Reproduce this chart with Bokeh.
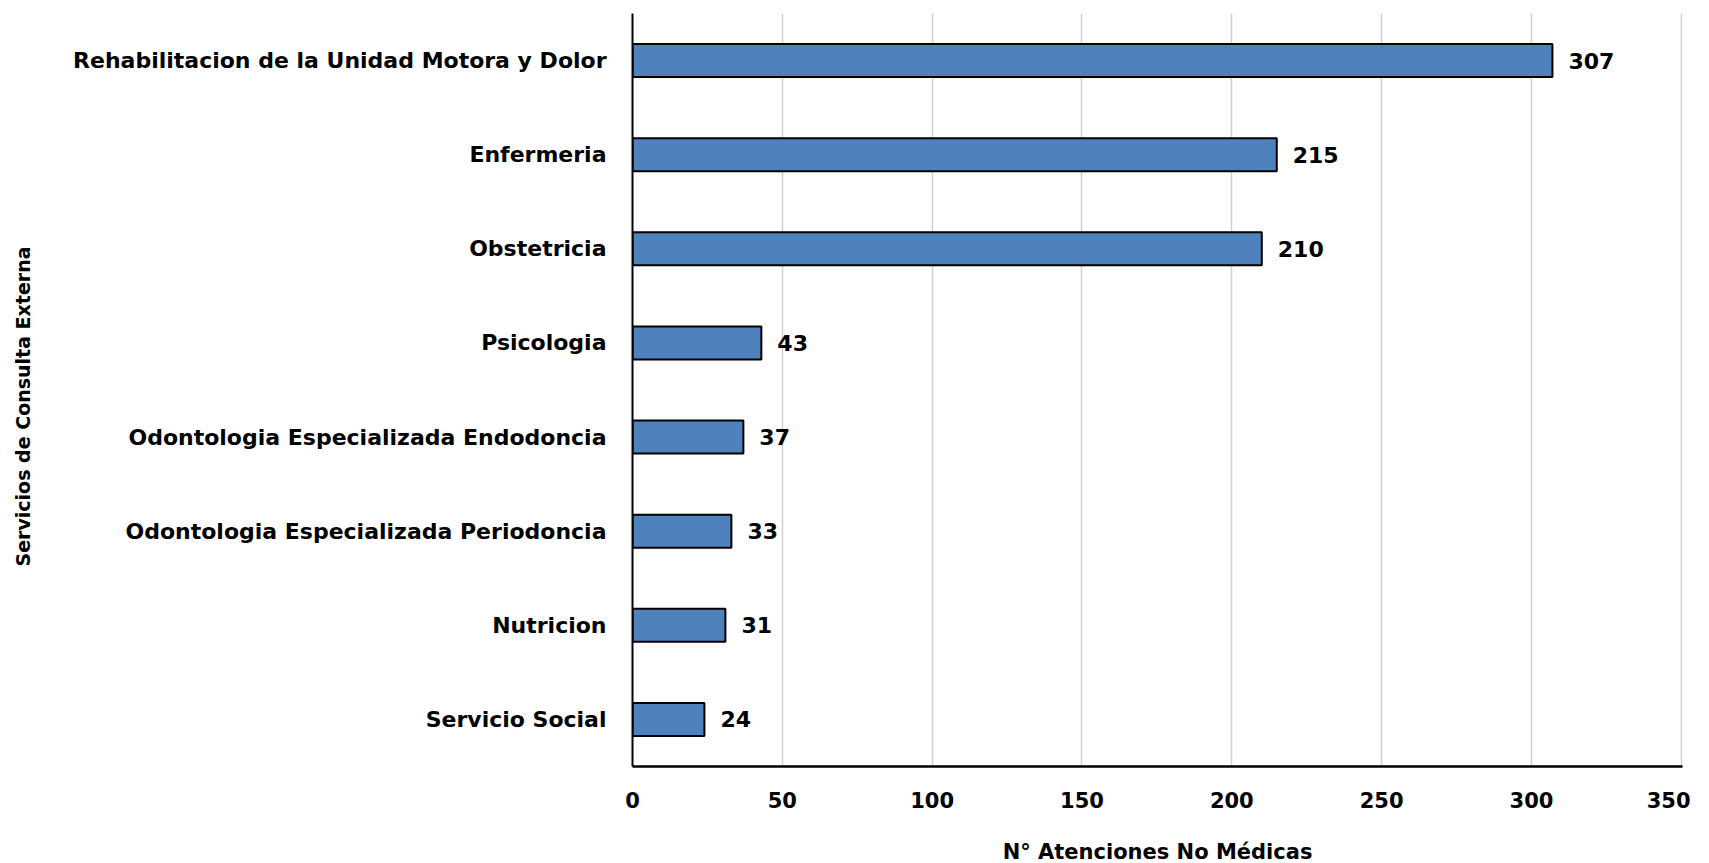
from bokeh.plotting import figure
from bokeh.models import ColumnDataSource, FactorRange, Range1d, FixedTicker, LabelSet, Title
from bokeh.core.properties import value
from bokeh.embed import file_html
from bokeh.resources import INLINE

categories = [
    "Rehabilitacion de la Unidad Motora y Dolor",
    "Enfermeria",
    "Obstetricia",
    "Psicologia",
    "Odontologia Especializada Endodoncia",
    "Odontologia Especializada Periodoncia",
    "Nutricion",
    "Servicio Social",
]
values = [307, 215, 210, 43, 37, 33, 31, 24]
x_ticks = [0, 50, 100, 150, 200, 250, 300, 350]
x_title = "N° Atenciones No Médicas"
y_title = "Servicios de Consulta Externa"

FONT = "DejaVu Sans"

cats_bottom_up = list(reversed(categories))
source = ColumnDataSource(dict(cat=categories, val=values, lab=[str(v) for v in values]))

p = figure(
    y_range=FactorRange(*cats_bottom_up, range_padding=0),
    x_range=Range1d(x_ticks[0], x_ticks[-1] + 0.4),
    frame_width=1050, frame_height=753,
    min_border_top=13, min_border_right=8, min_border_left=632, min_border_bottom=0,
    output_backend="svg", toolbar_location=None,
)

p.hbar(y="cat", right="val", left=0, height=0.35, source=source,
       fill_color="#4F81BD", line_color="black", line_width=2)

labels = LabelSet(x="val", y="cat", text="lab", source=source, x_offset=16,
                  text_align="left", text_baseline="middle",
                  text_font=value(FONT), text_font_style="bold", text_font_size="22px",
                  text_color="black")
p.add_layout(labels)

p.outline_line_color = None
p.ygrid.grid_line_color = None
p.xgrid.grid_line_color = "#D0D0D0"
p.xgrid.grid_line_width = 1.5
p.xaxis.ticker = FixedTicker(ticks=x_ticks)

for ax in (p.xaxis[0], p.yaxis[0]):
    ax.major_tick_line_color = None
    ax.minor_tick_line_color = None
    ax.major_tick_out = 0
    ax.major_tick_in = 0
    ax.axis_line_color = "black"
    ax.major_label_text_font = FONT
    ax.major_label_text_font_style = "bold"
    ax.major_label_text_color = "black"
    ax.axis_label_text_font = FONT
    ax.axis_label_text_font_style = "bold"
    ax.axis_label_text_color = "black"

p.xaxis.axis_line_width = 2.5
p.yaxis.axis_line_width = 2
p.xaxis.major_label_text_font_size = "21px"
p.yaxis.major_label_text_font_size = "22px"
p.xaxis.major_label_standoff = 25
p.yaxis.major_label_standoff = 26
p.xaxis.axis_label = x_title
p.xaxis.axis_label_text_font_size = "21px"
p.xaxis.axis_label_standoff = 29

# invisible spacer label on the y axis, the visible title sits just outside it
p.yaxis.axis_label = " "
p.yaxis.axis_label_text_font_size = "10px"
p.yaxis.axis_label_text_alpha = 0
p.yaxis.axis_label_standoff = 21

ytitle = Title(text=y_title, align="left", offset=200, standoff=4,
               text_font=FONT, text_font_style="bold", text_font_size="19px",
               text_color="black")
p.add_layout(ytitle, "left")

open("out.html", "w").write(file_html(p, INLINE))
